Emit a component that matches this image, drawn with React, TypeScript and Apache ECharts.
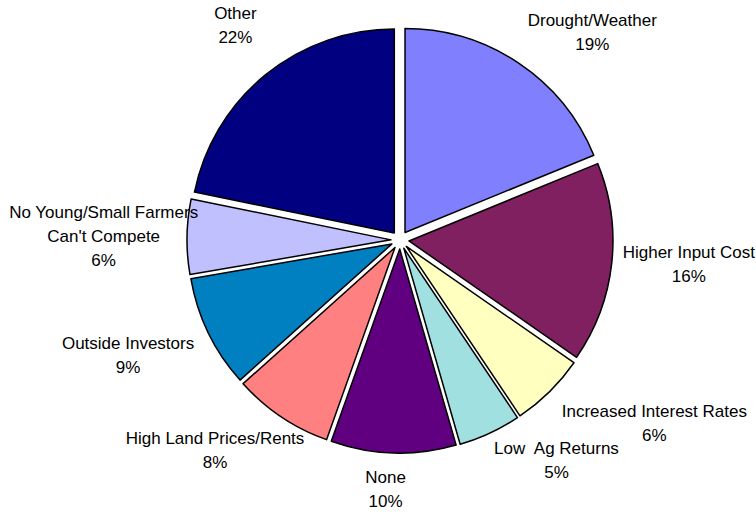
import React, { useEffect, useRef } from "react";
import * as echarts from "echarts";

const categories: string[] = [
  "Drought/Weather",
  "Higher Input Cost",
  "Increased Interest Rates",
  "Low  Ag Returns",
  "None",
  "High Land Prices/Rents",
  "Outside Investors",
  "No Young/Small Farmers\nCan't Compete",
  "Other",
];
const values: number[] = [19, 16, 6, 5, 10, 8, 9, 6, 22];
const colors: string[] = [
  "#8080FF",
  "#802060",
  "#FFFFC0",
  "#A0E0E0",
  "#600080",
  "#FF8080",
  "#0080C0",
  "#C0C0FF",
  "#000080",
];
// small manual label adjustments (px) to mimic the original's label placement
const labelNudgeX: number[] = [4, 2, 6, 0, -6, 28, -6, 2, -3];
const labelNudgeY: number[] = [1, -6, 1, -5, 4, 2, -5, 1, -18];

const CX = 400;
const CY = 240;
const RADIUS = 204;
const EXPLODE = 9;
const LABEL_R = 222;
const W = 756;
const FONT_SIZE = 17;
const LINE_H = 24;
const FONT_FAMILY = "Liberation Sans, Arial, sans-serif";

export default function App() {
  const ref = useRef<HTMLDivElement>(null);
  useEffect(() => {
    if (!ref.current) return;
    const chart = echarts.init(ref.current, undefined, { renderer: "svg" });
    const total = values.reduce((a, b) => a + b, 0);
    const mids: number[] = [];
    let cum = 0;
    values.forEach((v) => {
      mids.push(((cum + v / 2) / total) * 360);
      cum += v;
    });
    const clamp = (x: number) => Math.max(-1, Math.min(1, x));
    const canvas = document.createElement("canvas");
    const ctx = canvas.getContext("2d")!;
    ctx.font = `${FONT_SIZE}px ${FONT_FAMILY}`;

    const labels = categories.map((name, i) => {
      const text = `${name}\n${values[i]}%`;
      const lines = text.split("\n");
      const w = Math.max(...lines.map((l) => ctx.measureText(l).width));
      const h = lines.length * LINE_H;
      const th = (mids[i] * Math.PI) / 180;
      const dx = Math.sin(th);
      const dy = -Math.cos(th);
      const ax = CX + dx * LABEL_R;
      const ay = CY + dy * LABEL_R;
      let x = ax + clamp(dx * 2.5) * (w / 2);
      const y = ay + clamp(dy * 2.5) * (h / 2);
      if (x - w / 2 < 7) x = 7 + w / 2;
      if (x + w / 2 > W - 2) x = W - 2 - w / 2;
      return {
        type: "text",
        x: x + labelNudgeX[i],
        y: y + labelNudgeY[i],
        z: 100,
        silent: true,
        style: {
          text,
          fill: "#000000",
          fontSize: FONT_SIZE,
          fontFamily: FONT_FAMILY,
          lineHeight: LINE_H,
          align: "center",
          verticalAlign: "middle",
        },
      };
    });

    chart.setOption({
      animation: false,
      backgroundColor: "#ffffff",
      graphic: { elements: labels },
      series: [
        {
          type: "pie",
          z: 1,
          center: [CX, CY],
          radius: RADIUS,
          startAngle: 90,
          clockwise: true,
          selectedMode: "multiple",
          selectedOffset: EXPLODE,
          avoidLabelOverlap: false,
          emphasis: { disabled: true },
          itemStyle: { borderColor: "#000000", borderWidth: 1.5 },
          select: { itemStyle: { borderColor: "#000000", borderWidth: 1.5 } },
          label: { show: false },
          labelLine: { show: false },
          data: categories.map((name, i) => ({
            name,
            value: values[i],
            selected: true,
            itemStyle: { color: colors[i] },
          })),
        },
      ],
    });
    return () => chart.dispose();
  }, []);
  return (
    <div
      ref={ref}
      style={{ position: "fixed", left: 0, top: 0, width: 756, height: 512 }}
    />
  );
}
